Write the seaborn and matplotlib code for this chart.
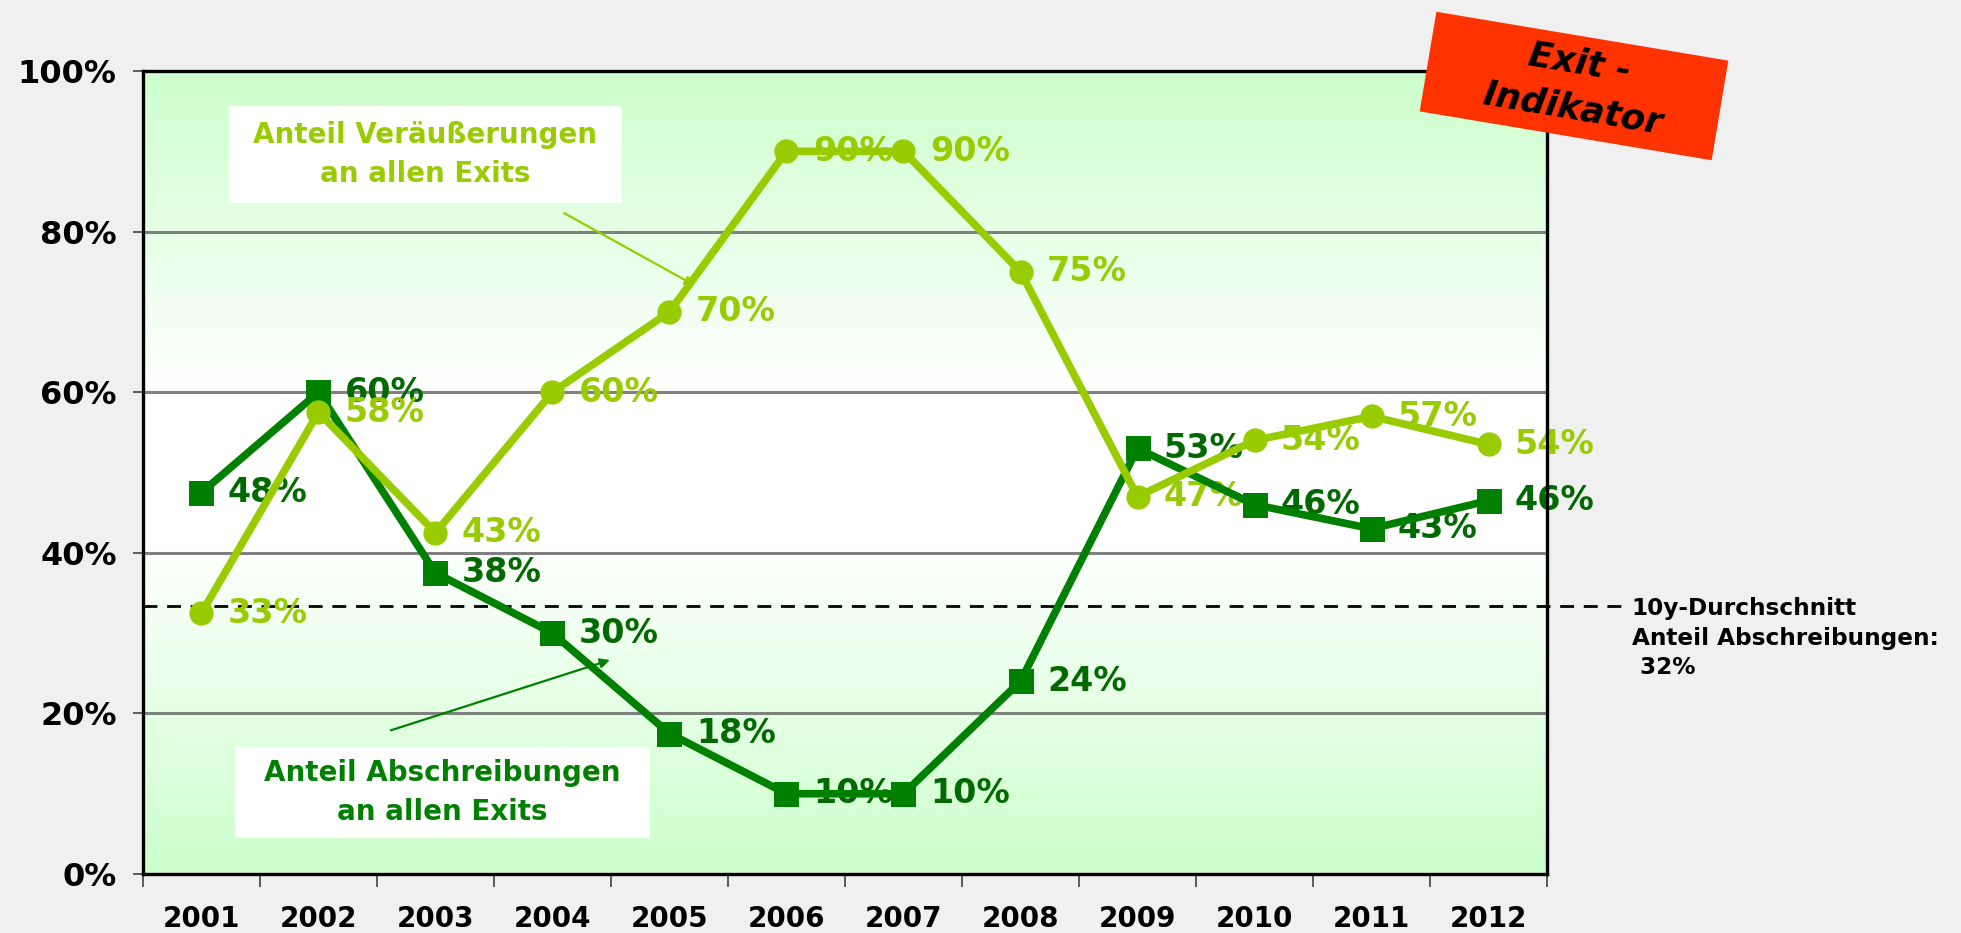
import numpy as np
import pandas as pd
import matplotlib
matplotlib.use("Agg")
import matplotlib.pyplot as plt
import seaborn as sns
from matplotlib.patches import Rectangle
from matplotlib.transforms import Affine2D
from matplotlib.colors import LinearSegmentedColormap

# ---------------- data ----------------
years = ["2001", "2002", "2003", "2004", "2005", "2006",
         "2007", "2008", "2009", "2010", "2011", "2012"]
abschreibungen = [47.5, 60, 37.5, 30, 17.5, 10, 10, 24, 53, 46, 43, 46.5]
abschreibungen_labels = ["48%", "60%", "38%", "30%", "18%", "10%",
                         "10%", "24%", "53%", "46%", "43%", "46%"]
veraeusserungen = [32.5, 57.5, 42.5, 60, 70, 90, 90, 75, 47, 54, 57, 53.5]
veraeusserungen_labels = ["33%", "58%", "43%", "60%", "70%", "90%",
                          "90%", "75%", "47%", "54%", "57%", "54%"]
avg_level = 33.4
avg_text = "10y-Durchschnitt\nAnteil Abschreibungen:\n 32%"
y_ticks = [0, 20, 40, 60, 80, 100]
y_ticklabels = ["0%", "20%", "40%", "60%", "80%", "100%"]

DARK = "#008000"
DARK_TXT = "#006a00"
LIGHT = "#99CC00"

sns.set_theme(style="white")
plt.rcParams["font.family"] = ["DejaVu Sans"]
plt.rcParams["font.weight"] = "bold"

fig = plt.figure(figsize=(19.61, 9.33), dpi=100, facecolor="#F0F0F0")
ax = fig.add_axes([0.0729, 0.0632, 0.7160, 0.8607])
ax.set_facecolor("white")

pos = np.arange(len(years))
df = pd.DataFrame({"pos": pos, "abs": abschreibungen, "ver": veraeusserungen})

# gradient background
cmap = LinearSegmentedColormap.from_list(
    "bg", [(0.0, "#CCFFCC"), (0.42, "#FFFFFF"), (0.6, "#FFFFFF"), (1.0, "#CCFFCC")])
grad = np.linspace(0, 1, 256).reshape(-1, 1)
ax.imshow(grad, extent=[-0.5, len(years) - 0.5, 0, 100], aspect="auto",
          cmap=cmap, origin="lower", zorder=0)

ax.set_xlim(-0.5, len(years) - 0.5)
ax.set_ylim(0, 100)

# grid
for v in y_ticks[1:-1]:
    ax.axhline(v, color="#808080", lw=2.2, zorder=1)

# average dashed line
ax.plot([-0.5, 12.2], [avg_level, avg_level], color="black", lw=2,
        dashes=(5, 3.5), clip_on=False, zorder=2)
ax.annotate(avg_text, xy=(12.2, avg_level), xytext=(2, 6),
            textcoords="offset points", ha="left", va="top",
            fontsize=16.7, fontweight="bold", color="black",
            annotation_clip=False, linespacing=1.36)

# lines
sns.lineplot(data=df, x="pos", y="abs", ax=ax, color=DARK, lw=5.5,
             marker="s", markersize=18, markeredgewidth=0, zorder=4)
sns.lineplot(data=df, x="pos", y="ver", ax=ax, color=LIGHT, lw=5.5,
             marker="o", markersize=17.5, markeredgewidth=0, zorder=5)

for x, y, t in zip(pos, abschreibungen, abschreibungen_labels):
    ax.annotate(t, xy=(x, y), xytext=(19, 0), textcoords="offset points",
                ha="left", va="center", fontsize=24, fontweight="bold",
                color=DARK_TXT, zorder=3)
for x, y, t in zip(pos, veraeusserungen, veraeusserungen_labels):
    ax.annotate(t, xy=(x, y), xytext=(19, 0), textcoords="offset points",
                ha="left", va="center", fontsize=24, fontweight="bold",
                color=LIGHT, zorder=3)

# annotation boxes
ax.add_patch(Rectangle((0.0613, 0.836), 0.2797, 0.120, transform=ax.transAxes,
                       facecolor="white", edgecolor="none", zorder=6))
ax.text(0.201, 0.896, "Anteil Veräußerungen\nan allen Exits", transform=ax.transAxes,
        ha="center", va="center", fontsize=20, fontweight="bold", color=LIGHT,
        zorder=7, linespacing=1.5)
ax.annotate("", xy=(0.393, 0.733), xytext=(0.300, 0.823),
            xycoords="axes fraction", textcoords="axes fraction",
            arrowprops=dict(arrowstyle="-|>", color=LIGHT, lw=1.6,
                            mutation_scale=14, shrinkA=0, shrinkB=0), zorder=7)

ax.add_patch(Rectangle((0.0655, 0.0448), 0.2955, 0.1132, transform=ax.transAxes,
                       facecolor="white", edgecolor="none", zorder=6))
ax.text(0.2134, 0.1015, "Anteil Abschreibungen\nan allen Exits", transform=ax.transAxes,
        ha="center", va="center", fontsize=20, fontweight="bold", color=DARK,
        zorder=7, linespacing=1.5)
ax.annotate("", xy=(0.3326, 0.2665), xytext=(0.1766, 0.179),
            xycoords="axes fraction", textcoords="axes fraction",
            arrowprops=dict(arrowstyle="-|>", color=DARK, lw=1.6,
                            mutation_scale=14, shrinkA=0, shrinkB=0), zorder=7)

# axes styling
for s in ax.spines.values():
    s.set_visible(True)
    s.set_color("black")
    s.set_linewidth(2.4)
    s.set_zorder(8)

ax.set_yticks(y_ticks)
ax.set_yticklabels(y_ticklabels, fontsize=23, fontweight="bold")
ax.tick_params(axis="y", which="major", length=7, width=1.2, color="#404040",
               left=True, pad=12, labelcolor="black")

ax.set_xticks(np.arange(-0.5, len(years), 1.0))
ax.set_xticklabels([])
ax.set_xticks(pos, minor=True)
ax.set_xticklabels(years, minor=True, fontsize=20, fontweight="bold")
ax.tick_params(axis="x", which="major", length=9, width=1.2, color="#404040",
               bottom=True, direction="out")
ax.tick_params(axis="x", which="minor", length=0, pad=22, labelcolor="black")
ax.set_xlabel("")
ax.set_ylabel("")

# red "Exit - Indikator" box
cx, cy = 15.74, 8.47
tr = Affine2D().rotate_deg_around(cx, cy, -9.5) + fig.dpi_scale_trans
red = Rectangle((cx - 1.48, cy - 0.505), 2.96, 1.01, transform=tr,
                facecolor="#FF3300", edgecolor="none", zorder=10)
fig.add_artist(red)
fig.text(1576 / 1961, 1 - 86 / 933, "Exit -\nIndikator", rotation=-9.5,
         rotation_mode="anchor", ha="center", va="center", multialignment="center",
         fontsize=25.5, fontweight="bold", fontstyle="italic", color="black",
         zorder=11, linespacing=1.45)

fig.savefig("out.png", dpi=100, facecolor=fig.get_facecolor())
